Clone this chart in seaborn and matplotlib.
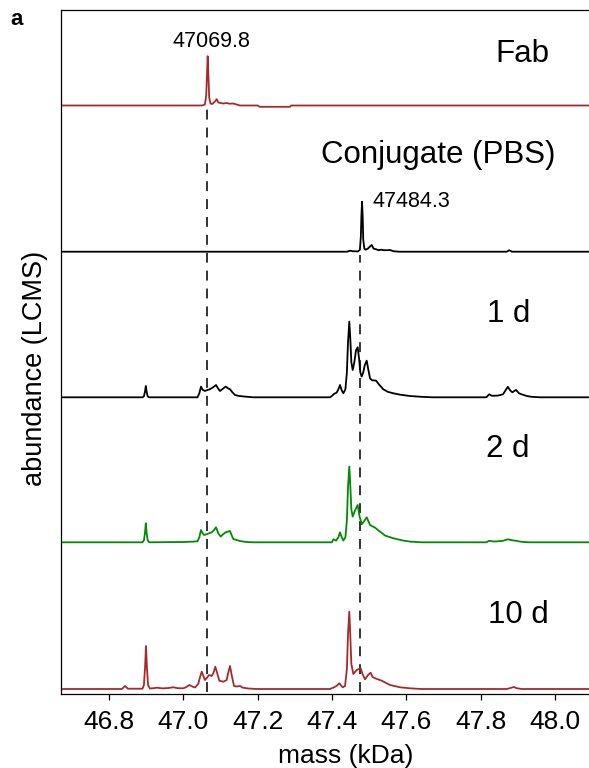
import numpy as np
import pandas as pd
import matplotlib
matplotlib.use("Agg")
import matplotlib.pyplot as plt
import seaborn as sns

# ---------------- data ----------------
trace_names = ["Fab", "Conjugate (PBS)", "1 d", "2 d", "10 d"]
trace_colors = ["#A52A2A", "#000000", "#000000", "#008B00", "#A52A2A"]

fab_mass = [46.675, 47.050, 47.058, 47.0615, 47.0635, 47.0655, 47.0675, 47.0695, 47.073,
            47.078, 47.085, 47.0897, 47.094, 47.100, 47.108, 47.116, 47.124, 47.134,
            47.145, 47.152, 47.200, 47.205, 47.287, 47.290, 48.21]
fab_int = [0, 0, 1, 10, 30, 49.3, 30, 8, 2,
           1.5, 4, 6.3, 3, 2.5, 2, 2.5, 1.8, 2,
           0.8, 0, 0, -1.3, -1.3, 0, 0]

conj_mass = [46.675, 47.440, 47.449, 47.455, 47.470, 47.475, 47.4775, 47.479, 47.4807,
             47.4825, 47.484, 47.487, 47.490, 47.496, 47.5066, 47.512, 47.518, 47.525,
             47.533, 47.540, 47.548, 47.556, 47.565, 47.580, 47.870, 47.877, 47.884, 48.21]
conj_int = [0, 0, 1, 0.5, 0.3, 2, 15, 35, 50,
            35, 12, 3, 2, 3, 6.7, 3, 2.5, 1.5,
            2, 1.5, 1.5, 1.7, 0.5, 0, 0, 1.5, 0, 0]

d1_mass = [46.675, 46.890, 46.894, 46.897, 46.899, 46.901, 46.904, 46.908,
           47.038, 47.043, 47.0475, 47.052, 47.0583, 47.0645, 47.071, 47.080, 47.0879,
           47.094, 47.0986, 47.106, 47.114, 47.120, 47.1255, 47.132, 47.139, 47.150,
           47.166, 47.188,
           47.3946, 47.400, 47.405, 47.4126, 47.417, 47.4215, 47.426, 47.4304, 47.436,
           47.440, 47.443, 47.4465, 47.449, 47.452, 47.4556, 47.460, 47.4645, 47.469,
           47.473, 47.476, 47.4798, 47.484, 47.488, 47.4933, 47.497, 47.5022, 47.508,
           47.5183, 47.526, 47.538, 47.550, 47.565, 47.585, 47.6098, 47.640, 47.670,
           47.815, 47.823, 47.830, 47.846, 47.860, 47.873, 47.879, 47.885, 47.895,
           47.903, 47.910, 47.925, 47.937, 47.960, 48.21]
d1_int = [0, 0, 1, 6, 11.3, 6, 1, 0,
          0, 4, 10.7, 7.5, 6.3, 7.3, 8, 10, 12.3,
          8.5, 6.3, 8.5, 10.7, 9, 8, 5, 2.3, 1.3,
          0.7, 0,
          0, 1.5, 3.3, 4.7, 8, 12.3, 7, 4, 8,
          25, 55, 75.7, 60, 35, 27.3, 35, 47, 50,
          38, 25, 20.7, 25, 32, 36.7, 29, 19, 17,
          16.7, 13, 8, 5.5, 4, 2.5, 1.3, 0.5, 0,
          0, 3, 1.5, 1.7, 3, 10.5, 7, 5, 7.4,
          4, 3, 1.2, 0.5, 0, 0]

d2_mass = [46.675, 46.890, 46.894, 46.897, 46.899, 46.901, 46.904, 46.908,
           47.000, 47.027, 47.038, 47.043, 47.0475, 47.052, 47.056, 47.0645, 47.076,
           47.082, 47.0879, 47.094, 47.1004, 47.107, 47.114, 47.1255, 47.130, 47.1345,
           47.152, 47.170, 47.188,
           47.3995, 47.404, 47.411, 47.417, 47.4215, 47.426, 47.4304, 47.436,
           47.440, 47.443, 47.4465, 47.449, 47.452, 47.4556, 47.462, 47.469, 47.474,
           47.480, 47.486, 47.4933, 47.498, 47.5022, 47.5156, 47.527, 47.543, 47.565,
           47.592, 47.610, 47.640,
           47.815, 47.823, 47.835, 47.846, 47.860, 47.873, 47.885, 47.895, 47.910,
           47.930, 48.21]
d2_int = [0, 0, 2, 10, 19, 10, 2, 0,
          0.3, 0.7, 1, 5, 12.3, 9, 7.3, 8.3, 10,
          12, 15, 9, 5.7, 8, 10, 11.3, 7, 3.3,
          1.3, 0.3, 0,
          0, 3, 1.7, 5, 10, 5, 1.7, 5,
          22, 55, 75.7, 58, 33, 25.7, 32, 37.3, 26,
          18, 21, 25, 21, 17.3, 14.7, 11.3, 6.7, 4,
          1.7, 0.7, 0,
          0, 1.5, 0.8, 1, 1.5, 3, 2, 1.5, 0.5,
          0, 0]

d10_mass = [46.675, 46.835, 46.840, 46.843, 46.846, 46.851, 46.890, 46.894, 46.897,
            46.8995, 46.902, 46.905, 46.910, 46.920, 46.928, 46.945, 46.960, 46.973,
            46.985, 47.000, 47.008, 47.016, 47.024, 47.0314, 47.040, 47.045, 47.0494,
            47.054, 47.058, 47.063, 47.069, 47.0763, 47.081, 47.086, 47.091, 47.0968,
            47.1076, 47.1166, 47.1205, 47.1255, 47.130, 47.1363, 47.144, 47.1525,
            47.160, 47.175, 47.197,
            47.3946, 47.4054, 47.412, 47.4196, 47.4286, 47.435, 47.440, 47.443,
            47.4465, 47.449, 47.452, 47.4573, 47.4663, 47.4771, 47.482, 47.4888,
            47.497, 47.504, 47.509, 47.516, 47.5337, 47.556, 47.583, 47.610, 47.640,
            47.870, 47.882, 47.889, 47.897, 47.910, 48.21]
d10_int = [0, 0, 2, 3, 2, 0.3, 0.3, 4, 22,
           43, 22, 4, 0.5, 0.8, 1.3, 0.6, 1, 1.7,
           0.8, 0.7, 2, 4, 2.5, 1.5, 5, 12, 17.3,
           13, 9, 11, 14, 13, 16, 22.3, 16, 8.3,
           7.3, 9, 16, 23, 14, 3, 2.5, 3,
           1.3, 0.5, 0,
           0, 1.7, 3, 5.7, 1.7, 3, 20, 55,
           77.3, 55, 25, 15, 19, 20.7, 15, 9.7,
           14, 16.3, 12, 10.7, 8.3, 4, 1.7, 0.7, 0,
           0, 1.2, 2, 0.8, 0, 0]

trace_masses = [fab_mass, conj_mass, d1_mass, d2_mass, d10_mass]
trace_ints = [fab_int, conj_int, d1_int, d2_int, d10_int]

peak_labels = ["47069.8", "47484.3"]
peak_marks = [47.0626, 47.474]          # dashed reference lines (kDa)

xtick_values = [46.8, 47.0, 47.2, 47.4, 47.6, 47.8, 48.0]
xtick_labels = ["46.8", "47.0", "47.2", "47.4", "47.6", "47.8", "48.0"]

# ---------------- layout ----------------
offsets = [588.5, 442.3, 296.7, 151.7, 5.0]
name_pos = [(47.913, 631.7), (47.685, 530.7), (47.876, 371.8), (47.873, 236.9), (47.901, 71.3)]

sns.set_theme(style="white")
plt.rcParams["font.family"] = ["Liberation Sans", "DejaVu Sans"]
plt.rcParams["text.color"] = "black"
plt.rcParams["axes.labelcolor"] = "black"
plt.rcParams["xtick.color"] = "black"
plt.rcParams["ytick.color"] = "black"

W, H = 589, 768
fig = plt.figure(figsize=(W / 100, H / 100), dpi=100)
ax = fig.add_axes([60.5 / W, (H - 694) / H, (631.5 - 60.5) / W, (694 - 10) / H])

frames = []
for name, m, inten, off in zip(trace_names, trace_masses, trace_ints, offsets):
    frames.append(pd.DataFrame({"mass": m, "y": np.asarray(inten) + off, "trace": name}))
df = pd.concat(frames, ignore_index=True)

for name, color in zip(trace_names, trace_colors):
    sub = df[df["trace"] == name]
    sns.lineplot(data=sub, x="mass", y="y", ax=ax, color=color, lw=1.3,
                 estimator=None, sort=True, legend=False)

# dashed reference lines
ax.plot([peak_marks[0]] * 2, [2, offsets[0] - 3], color="#333333", lw=1.4,
        linestyle=(0, (5.1, 4.1)), zorder=1)
ax.plot([peak_marks[1]] * 2, [2, offsets[1] - 3], color="#333333", lw=1.4,
        linestyle=(0, (5.1, 4.1)), zorder=1)

# peak annotations
ax.text(47.0768, 646.7, peak_labels[0], ha="center", va="baseline", fontsize=15.5, color="black")
ax.text(47.508, 487.3, peak_labels[1], ha="left", va="baseline", fontsize=15.5, color="black")

# trace names
for name, (x, y) in zip(trace_names, name_pos):
    ax.text(x, y, name, ha="center", va="baseline", fontsize=22.5, color="black")

ax.set_xlim(46.6695, 48.2057)
ax.set_ylim(0, 684)
ax.set_xticks(xtick_values)
ax.set_xticklabels(xtick_labels)
ax.set_yticks([])
ax.tick_params(axis="x", bottom=True, length=4.3, width=0.9, pad=7, labelsize=19,
               color="black", labelcolor="black")
for side in ["left", "top", "bottom"]:
    ax.spines[side].set_visible(True)
    ax.spines[side].set_color("black")
    ax.spines[side].set_linewidth(0.9)
ax.spines["right"].set_visible(False)

ax.set_xlabel("mass (kDa)", fontsize=19, color="black")
ax.xaxis.set_label_coords(346 / W, 1 - 762.7 / H, transform=fig.transFigure)
ax.xaxis.label.set_verticalalignment("baseline")
ax.set_ylabel("abundance (LCMS)", fontsize=19.5, color="black")
ax.yaxis.set_label_coords(41.7 / W, 1 - 368 / H, transform=fig.transFigure)
ax.yaxis.label.set_verticalalignment("baseline")

fig.text(10 / W, 1 - 25 / H, "a", fontsize=16, fontweight="bold", ha="left", va="baseline",
         color="black")

fig.savefig("out.png", dpi=100)
